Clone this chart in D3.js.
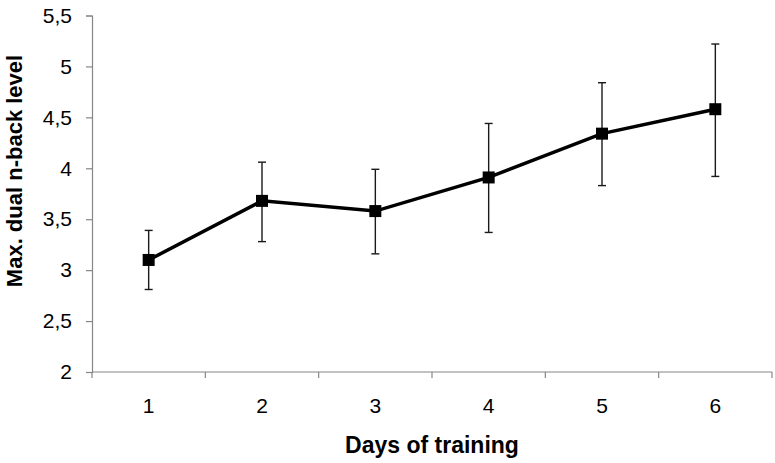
<!DOCTYPE html>
<html>
<head>
<meta charset="utf-8">
<script src="https://cdn.jsdelivr.net/npm/d3@7/dist/d3.min.js"></script>
<style>
  body { margin: 0; background: #fff; }
  text { font-family: "Liberation Sans", Arial, sans-serif; }
</style>
</head>
<body>
<div id="app"></div>
<script>
let days = ['1', '2', '3', '4', '5', '6'];
let means = [3.10, 3.68, 3.58, 3.91, 4.34, 4.58];
let upper = [3.39, 4.06, 3.99, 4.44, 4.84, 5.22];
let lower = [2.81, 3.28, 3.16, 3.37, 3.83, 3.92];
let yTicks = [2, 2.5, 3, 3.5, 4, 4.5, 5, 5.5];

let width = 775, height = 463;
let margin = {top: 15.5, right: 3, bottom: 91, left: 92};
let innerW = width - margin.left - margin.right;
let innerH = height - margin.top - margin.bottom;

let svg = d3.select('#app').append('svg')
    .attr('width', width)
    .attr('height', height);

let g = svg.append('g')
    .attr('transform', 'translate(' + margin.left + ',' + margin.top + ')');

let xScale = d3.scaleBand()
    .domain(days)
    .range([0, innerW]);

let yScale = d3.scaleLinear()
    .domain([2, 5.5])
    .range([innerH, 0]);

let fmt = d => String(d).replace('.', ',');

// y axis
let yAxis = g.append('g')
    .call(d3.axisLeft(yScale).tickValues(yTicks).tickFormat(fmt).tickSize(6).tickPadding(14));
yAxis.select('.domain').attr('stroke', '#868686').attr('stroke-width', 1.2);
yAxis.selectAll('.tick line').attr('stroke', '#868686').attr('stroke-width', 1.2);
yAxis.selectAll('.tick text').attr('font-size', 21).attr('fill', '#000');

// x axis: ticks on the band edges, labels in the middle
let xAxis = g.append('g')
    .attr('transform', 'translate(0,' + innerH + ')');
xAxis.append('line')
    .attr('x1', 0).attr('x2', innerW)
    .attr('stroke', '#868686').attr('stroke-width', 1.2);
let edges = days.map(d => xScale(d)).concat([innerW]);
xAxis.selectAll('.edge')
    .data(edges)
    .enter().append('line')
      .attr('x1', d => d).attr('x2', d => d)
      .attr('y1', 0).attr('y2', 6)
      .attr('stroke', '#868686').attr('stroke-width', 1.2);
xAxis.selectAll('.lbl')
    .data(days)
    .enter().append('text')
      .attr('x', d => xScale(d) + xScale.bandwidth() / 2)
      .attr('y', 41)
      .attr('text-anchor', 'middle')
      .attr('font-size', 21)
      .text(d => d);

let cx = d => xScale(d) + xScale.bandwidth() / 2;

// error bars
let eb = g.selectAll('.err')
    .data(days)
    .enter().append('g');
eb.append('line')
    .attr('x1', d => cx(d)).attr('x2', d => cx(d))
    .attr('y1', (d, i) => yScale(upper[i]))
    .attr('y2', (d, i) => yScale(lower[i]))
    .attr('stroke', '#1a1a1a').attr('stroke-width', 1.4);
eb.append('line')
    .attr('x1', d => cx(d) - 4).attr('x2', d => cx(d) + 4)
    .attr('y1', (d, i) => yScale(upper[i]))
    .attr('y2', (d, i) => yScale(upper[i]))
    .attr('stroke', '#1a1a1a').attr('stroke-width', 1.4);
eb.append('line')
    .attr('x1', d => cx(d) - 4).attr('x2', d => cx(d) + 4)
    .attr('y1', (d, i) => yScale(lower[i]))
    .attr('y2', (d, i) => yScale(lower[i]))
    .attr('stroke', '#1a1a1a').attr('stroke-width', 1.4);

// line
let line = d3.line()
    .x((d, i) => cx(days[i]))
    .y(d => yScale(d));
g.append('path')
    .datum(means)
    .attr('d', line)
    .attr('fill', 'none')
    .attr('stroke', '#000')
    .attr('stroke-width', 3.5);

// markers
g.selectAll('.mark')
    .data(means)
    .enter().append('rect')
      .attr('x', (d, i) => cx(days[i]) - 6)
      .attr('y', d => yScale(d) - 6)
      .attr('width', 12)
      .attr('height', 12)
      .attr('fill', '#000');

// titles
svg.append('text')
    .attr('x', margin.left + innerW / 2)
    .attr('y', 453)
    .attr('text-anchor', 'middle')
    .attr('font-size', 23)
    .attr('font-weight', 'bold')
    .text('Days of training');

svg.append('text')
    .attr('transform', 'translate(22,171) rotate(-90)')
    .attr('text-anchor', 'middle')
    .attr('font-size', 22)
    .attr('font-weight', 'bold')
    .text('Max. dual n-back level');
</script>
</body>
</html>
